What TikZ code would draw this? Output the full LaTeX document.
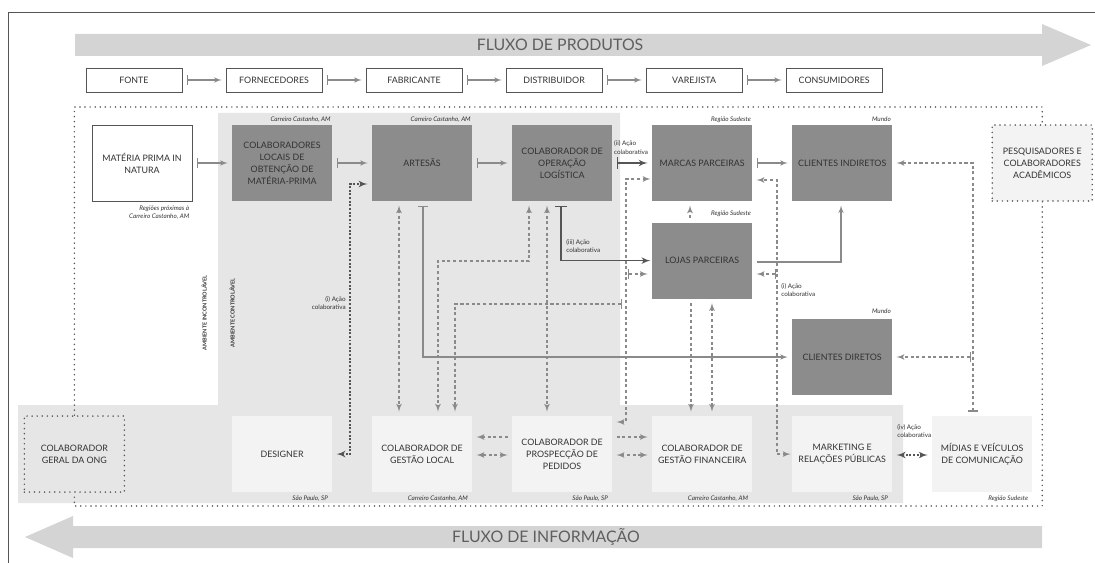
\documentclass[tikz,border=0pt]{standalone}
\usepackage{fontspec}
\setmainfont{Lato}
\usetikzlibrary{positioning}
\usetikzlibrary{arrows}

\newcommand{\boxfont}{\fontsize{6.3}{8.5}\selectfont}
\newcommand{\bandfont}{\fontsize{11.3}{13}\selectfont}
\newcommand{\placefont}{\fontsize{4.5}{5.7}\selectfont\itshape}
\newcommand{\notefont}{\fontsize{4.5}{6}\selectfont}
\newcommand{\ambfont}{\fontsize{3.9}{5}\selectfont\bfseries}

\begin{document}
\begin{tikzpicture}[x=0.025cm,y=-0.025cm,>=latex',node distance=3.5cm,
	chain node/.style={rectangle,draw=linedark,line width=0.4pt,fill=white,text=txt,minimum width=2.4cm,minimum height=0.6cm,font=\boxfont},
	dark node/.style={rectangle,fill=boxdark,text=txt,minimum width=2.5cm,minimum height=1.9cm,align=center,font=\boxfont},
	light node/.style={dark node,fill=boxlight},
	dotted node/.style={light node,draw=linedark,line width=1.2pt,dash pattern=on 0pt off 3.6pt,line cap=round},
	place/.style={font=\placefont,text=txt,inner sep=0pt},
	note/.style={font=\notefont,text=txt,inner sep=0pt,align=left},
	flow/.style={|->,color=linegray,line width=0.8pt,shorten <=3pt,shorten >=3pt},
	dark flow/.style={flow,color=linedark,line width=1.2pt},
	info/.style={color=linegray,line width=0.9pt,dash pattern=on 2.2pt off 1.8pt,shorten <=3pt,shorten >=3pt},
	dark info/.style={info,color=linedark,line width=1.2pt,dash pattern=on 1.4pt off 1.2pt},
	frame/.style={draw=linedark,line width=1.2pt,dash pattern=on 0pt off 3.6pt,line cap=round}]

	\definecolor{bandgray}{RGB}{212,212,212}
	\definecolor{ctrlgray}{RGB}{230,230,230}
	\definecolor{boxdark}{RGB}{140,140,140}
	\definecolor{boxlight}{RGB}{243,243,243}
	\definecolor{linegray}{RGB}{138,138,138}
	\definecolor{linedark}{RGB}{85,85,85}
	\definecolor{txt}{RGB}{50,50,50}
	\definecolor{bandtxt}{RGB}{95,95,95}

	\useasboundingbox (0,0) rectangle (1095,563);
	\draw[linedark,line width=0.6pt] (8,563) -- (8,12) -- (1095,12);

	% flows and controllable area
	\fill[bandgray] (75,34) -- (1042,34) -- (1042,24) -- (1091,45) -- (1042,66) -- (1042,56) -- (75,56) -- cycle;
	\fill[bandgray] (1042,526) -- (73,526) -- (73,516) -- (25,537) -- (73,558) -- (73,548) -- (1042,548) -- cycle;
	\node[font=\bandfont,text=bandtxt] (produtos) at (560,45) {FLUXO DE PRODUTOS};
	\node[font=\bandfont,text=bandtxt] (informacao) at (546,537) {FLUXO DE INFORMAÇÃO};
	\fill[ctrlgray] (218,113) -- (620,113) -- (620,405) -- (903,405) -- (903,503) -- (18,503) -- (18,405) -- (218,405) -- cycle;
	\node[font=\ambfont,text=txt,rotate=90] (incontrolavel) at (204,313) {AMBIENTE INCONTROLÁVEL};
	\node[font=\ambfont,text=txt,rotate=90] (controlavel) at (232,313) {AMBIENTE CONTROLÁVEL};

	% chain
	\node[chain node] (fonte) at (134,80) {FONTE};
	\node[chain node] (fornecedores) [right of=fonte] {FORNECEDORES};
	\node[chain node] (fabricante) [right of=fornecedores] {FABRICANTE};
	\node[chain node] (distribuidor) [right of=fabricante] {DISTRIBUIDOR};
	\node[chain node] (varejista) [right of=distribuidor] {VAREJISTA};
	\node[chain node] (consumidores) [right of=varejista] {CONSUMIDORES};

	% actors
	\node[chain node,minimum width=2.5cm,minimum height=1.9cm,align=center] (materia) at (142,163) {MATÉRIA PRIMA IN\\NATURA};
	\node[dark node] (locais) [right of=materia] {COLABORADORES\\LOCAIS DE\\OBTENÇÃO DE\\MATÉRIA-PRIMA};
	\node[dark node] (artesas) [right of=locais] {ARTESÃS};
	\node[dark node] (logistica) [right of=artesas] {COLABORADOR DE\\OPERAÇÃO\\LOGÍSTICA};
	\node[dark node] (marcas) [right of=logistica] {MARCAS PARCEIRAS};
	\node[dark node] (indiretos) [right of=marcas] {CLIENTES INDIRETOS};
	\node[dark node] (lojas) [below of=marcas,node distance=2.44cm] {LOJAS PARCEIRAS};
	\node[dark node] (diretos) [below of=indiretos,node distance=4.85cm] {CLIENTES DIRETOS};
	\node[dotted node] (pesquisadores) [right of=indiretos,node distance=5cm] {PESQUISADORES E\\COLABORADORES\\ACADÊMICOS};

	\node[light node] (designer) [below of=locais,node distance=7.275cm] {DESIGNER};
	\node[light node] (gestao) [right of=designer] {COLABORADOR DE\\GESTÃO LOCAL};
	\node[light node] (prospeccao) [right of=gestao] {COLABORADOR DE\\PROSPECÇÃO DE\\PEDIDOS};
	\node[light node] (financeira) [right of=prospeccao] {COLABORADOR DE\\GESTÃO FINANCEIRA};
	\node[light node] (marketing) [right of=financeira] {MARKETING E\\RELAÇÕES PÚBLICAS};
	\node[light node] (midias) [right of=marketing] {MÍDIAS E VEÍCULOS\\DE COMUNICAÇÃO};
	\node[dotted node,fill=ctrlgray] (geral) [left of=designer,node distance=5.19cm] {COLABORADOR\\GERAL DA ONG};

	% places
	\node[place,anchor=north east,align=right] (materia-loc) at ([xshift=-2pt,yshift=-3pt]materia.south east) {Regiões próximas à\\Carreiro Castanho, AM};
	\node[place,anchor=base east] (locais-loc) at ([xshift=-1pt,yshift=2.5pt]locais.north east) {Carreiro Castanho, AM};
	\node[place,anchor=base east] (artesas-loc) at ([xshift=-1pt,yshift=2.5pt]artesas.north east) {Carreiro Castanho, AM};
	\node[place,anchor=base east] (marcas-loc) at ([xshift=-1pt,yshift=2.5pt]marcas.north east) {Região Sudeste};
	\node[place,anchor=base east] (indiretos-loc) at ([xshift=-1pt,yshift=2.5pt]indiretos.north east) {Mundo};
	\node[place,anchor=base east] (lojas-loc) at ([xshift=-1pt,yshift=5pt]lojas.north east) {Região Sudeste};
	\node[place,anchor=base east] (diretos-loc) at ([xshift=-1pt,yshift=4pt]diretos.north east) {Mundo};
	\node[place,anchor=base east] (designer-loc) at ([xshift=-3pt,yshift=-5.5pt]designer.south east) {São Paulo, SP};
	\node[place,anchor=base east] (gestao-loc) at ([xshift=-3pt,yshift=-5.5pt]gestao.south east) {Carreiro Castanho, AM};
	\node[place,anchor=base east] (prospeccao-loc) at ([xshift=-3pt,yshift=-5.5pt]prospeccao.south east) {São Paulo, SP};
	\node[place,anchor=base east] (financeira-loc) at ([xshift=-3pt,yshift=-5.5pt]financeira.south east) {Carreiro Castanho, AM};
	\node[place,anchor=base east] (marketing-loc) at ([xshift=-3pt,yshift=-5.5pt]marketing.south east) {São Paulo, SP};
	\node[place,anchor=base east] (midias-loc) at ([xshift=-3pt,yshift=-5.5pt]midias.south east) {Região Sudeste};

	% frame of the uncontrollable environment
	\draw[frame] (geral.north) -- (geral.north |- 0,107) -- (pesquisadores.north |- 0,107) -- (pesquisadores.north);
	\draw[frame] (pesquisadores.south) -- (pesquisadores.south |- 0,506) -- (geral.south |- 0,506) -- (geral.south);

	% product flow
	\path[flow]
	(fonte) edge (fornecedores)
	(fornecedores) edge (fabricante)
	(fabricante) edge (distribuidor)
	(distribuidor) edge (varejista)
	(varejista) edge (consumidores)
	(materia) edge (locais)
	(locais) edge (artesas)
	(artesas) edge (logistica)
	(marcas) edge (indiretos)
	(logistica) edge[dark flow] (marcas);
	\draw[flow] (artesas.south -| 423,0) |- (diretos.west);
	\draw[flow,->] (lojas.east |- 0,262) -| (indiretos.south -| 841,0);
	\draw[dark flow,shorten >=1pt] (logistica.south -| 561,0) |- (lojas.west);

	% information flow
	\draw[info,<->] (artesas.south -| 399,0) -- (gestao.north -| 399,0);
	\draw[info,<->] (logistica.south -| 529,0) |- (438,261) -- (gestao.north -| 438,0);
	\draw[info,<->] (logistica.south -| 547,0) -- (prospeccao.north -| 547,0);
	\draw[info,<->,shorten >=1pt] (prospeccao.east |- 0,422) -| (626,179) -- (marcas.west |- 0,179);
	\coordinate (lojas-in) at (628,274);
	\draw[info,|->,shorten <=0pt] (lojas-in) -- (lojas.west |- lojas-in);
	\coordinate (gestao-in) at (622,304);
	\draw[info,|->,shorten <=0pt] (gestao-in) -| (gestao.north -| 455,0);
	\draw[info,<->,shorten <=1pt] (marketing.west) -| (777,180) -- (marcas.east |- 0,180);
	\coordinate (lojas-out) at (776,274);
	\draw[info,|->,shorten <=0pt] (lojas-out) -- (lojas.east |- lojas-out);
	\draw[info,->] (lojas.north -| 690,0) -- (marcas.south -| 690,0);
	\draw[info,->] (lojas.south -| 691,0) -- (financeira.north -| 691,0);
	\draw[info,<->] (lojas.south -| 712,0) -- (financeira.north -| 712,0);
	\draw[info,|->] (midias.north -| 973,0) |- (indiretos.east);
	\coordinate (diretos-in) at (971,357);
	\draw[info,|->,shorten <=0pt] (diretos-in) -- (diretos.east |- diretos-in);
	\draw[info,->] (prospeccao.west |- 0,437) -- (gestao.east |- 0,437);
	\draw[info,<->] (prospeccao.west |- 0,455) -- (gestao.east |- 0,455);
	\draw[info,->] (prospeccao.east |- 0,437) -- (financeira.west |- 0,437);
	\draw[info,<->] (prospeccao.east |- 0,455) -- (financeira.west |- 0,455);
	\draw[dark info,<->] (marketing.east |- 0,455) -- (midias.west |- 0,455);
	\draw[dark info,<->] (designer.east) -| (350,184) -- (artesas.west |- 0,184);

	% collaborative actions
	\node[note,anchor=south west] (acao-ii) at ([xshift=1pt,yshift=6pt]logistica.east) {(ii) Ação\\colaborativa};
	\node[note,anchor=north west] (acao-iii) at (566,239) {(iii) Ação\\colaborativa};
	\node[note,anchor=north west] (acao-i) at (781,283) {(i) Ação\\colaborativa};
	\node[note,anchor=north east,align=right] (acao-i-designer) at (346,296) {(i) Ação\\colaborativa};
	\node[note,anchor=north west] (acao-iv) at (897,424) {(iv) Ação\\colaborativa};
\end{tikzpicture}
\end{document}
